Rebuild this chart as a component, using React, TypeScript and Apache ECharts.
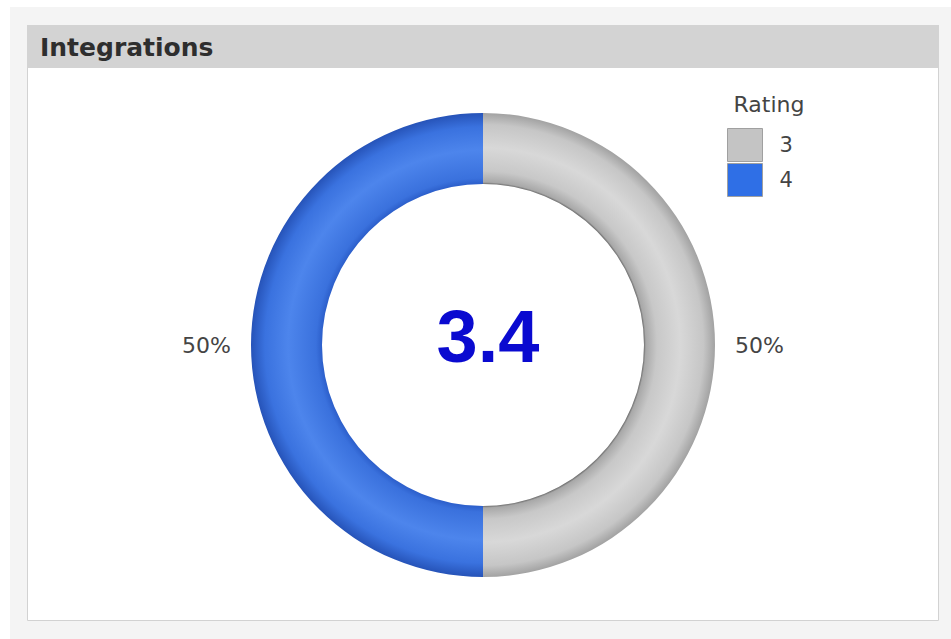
import React, { useEffect, useRef } from "react";
import * as echarts from "echarts";

const panelTitle = "Integrations";
const legendTitle = "Rating";
const centerValue = "3.4";
const ratings = ["3", "4"];
const shares = [50, 50];

const CX = 483;
const CY = 345;
const R_OUT = 232;
const R_IN = 161;

function ringGradient(stops: [number, string][]) {
  return {
    type: "radial",
    x: CX,
    y: CY,
    r: R_OUT,
    global: true,
    colorStops: stops.map(([offset, color]) => ({ offset, color })),
  };
}

const grayFill = ringGradient([
  [0, "#c0c0c0"],
  [0.69, "#555555"],
  [0.702, "#a8a8a8"],
  [0.75, "#c8c8c8"],
  [0.85, "#d8d8d8"],
  [0.95, "#c6c6c6"],
  [1, "#a2a2a2"],
]);
const blueFill = ringGradient([
  [0, "#3a70dc"],
  [0.69, "#2a5cc8"],
  [0.72, "#3a71dd"],
  [0.84, "#4d85ec"],
  [0.94, "#3a72df"],
  [1, "#2653b8"],
]);

const sliceFills = [grayFill, blueFill];
const legendColors = ["#c4c4c4", "#2f6fe6"];

export default function App() {
  const ref = useRef<HTMLDivElement>(null);

  useEffect(() => {
    if (!ref.current) return;
    const chart = echarts.init(ref.current, null, { renderer: "svg" });
    chart.setOption({
      animation: false,
      backgroundColor: "#ffffff",
      graphic: [
        {
          type: "rect",
          z: -10,
          shape: { x: 10, y: 7, width: 941, height: 632 },
          style: { fill: "#f4f4f4" },
        },
        {
          type: "rect",
          z: -9,
          shape: { x: 27.5, y: 25.5, width: 911, height: 595 },
          style: { fill: "#ffffff", stroke: "#d2d2d2", lineWidth: 1 },
        },
        {
          type: "rect",
          z: -8,
          shape: { x: 27, y: 25, width: 912, height: 43 },
          style: { fill: "#d3d3d3" },
        },
        {
          type: "text",
          x: 40,
          y: 47,
          style: {
            text: panelTitle,
            font: "bold 25px 'DejaVu Sans'",
            fill: "#2e2e2e",
            textVerticalAlign: "middle",
          },
        },
        {
          type: "text",
          x: 769,
          y: 104,
          style: {
            text: legendTitle,
            font: "22px 'DejaVu Sans'",
            fill: "#444444",
            textAlign: "center",
            textVerticalAlign: "middle",
          },
        },
        {
          type: "text",
          x: 488,
          y: 336,
          style: {
            text: centerValue,
            font: "bold 74px 'Liberation Sans', Arial, sans-serif",
            fill: "#0a0ad0",
            textAlign: "center",
            textVerticalAlign: "middle",
          },
        },
      ],
      legend: {
        orient: "vertical",
        left: 727,
        top: 128,
        padding: 0,
        itemWidth: 35,
        itemHeight: 33,
        itemGap: 1,
        icon: "rect",
        selectedMode: false,
        data: ratings.map((r, i) => ({
          name: r,
          itemStyle: { color: legendColors[i], borderColor: "#a0a0a0", borderWidth: 1 },
        })),
        textStyle: {
          fontFamily: "DejaVu Sans",
          fontSize: 21,
          color: "#444444",
          padding: [0, 0, 0, 12],
        },
      },
      series: [
        {
          type: "pie",
          center: [CX, CY],
          radius: [R_IN, R_OUT],
          startAngle: 90,
          clockwise: true,
          avoidLabelOverlap: false,
          silent: true,
          data: ratings.map((r, i) => ({
            name: r,
            value: shares[i],
            itemStyle: { color: sliceFills[i] },
          })),
          label: {
            show: true,
            position: "outside",
            formatter: "{d}%",
            fontFamily: "DejaVu Sans",
            fontSize: 22,
            color: "#444444",
          },
          labelLine: { show: false, length: 15, length2: 0 },
        },
      ],
    });
    return () => chart.dispose();
  }, []);

  return (
    <div
      ref={ref}
      style={{ position: "absolute", left: 0, top: 0, width: 951, height: 639 }}
    />
  );
}
